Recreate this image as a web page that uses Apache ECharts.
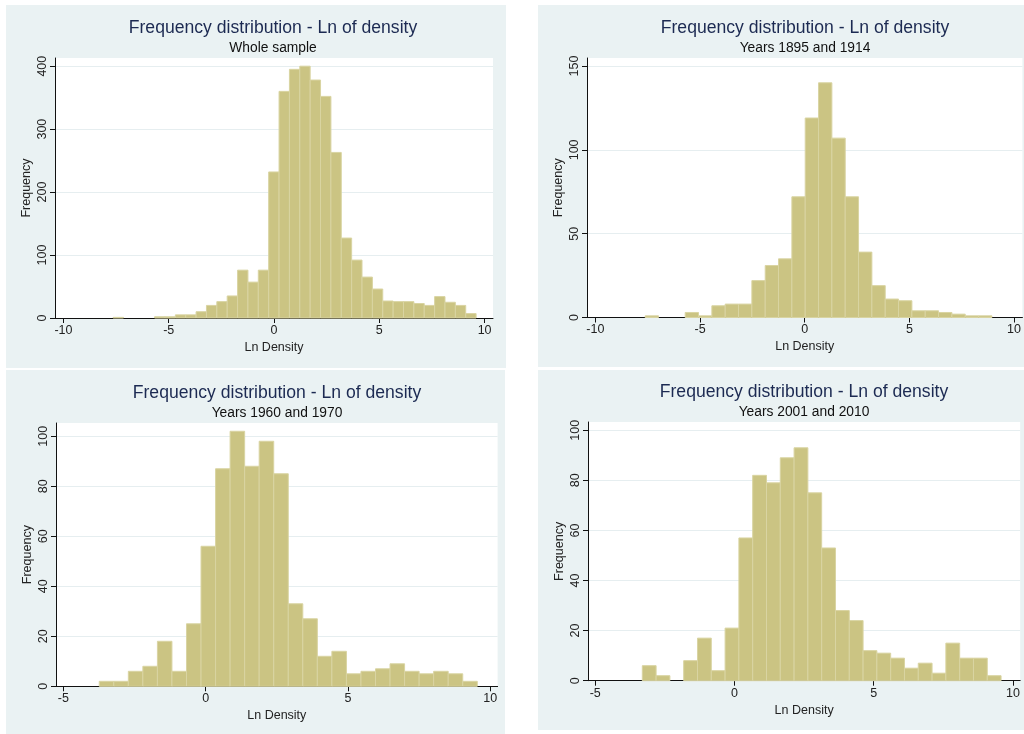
<!DOCTYPE html>
<html><head><meta charset="utf-8">
<script src="https://cdn.jsdelivr.net/npm/echarts@6/dist/echarts.min.js"></script>
<style>html,body{margin:0;padding:0;background:#fff}#c{width:1024px;height:734px}</style>
</head><body><div id="c"></div>
<script>
// ---- data ----
const mainTitle = 'Frequency distribution - Ln of density';
const subtitles = ['Whole sample', 'Years 1895 and 1914', 'Years 1960 and 1970', 'Years 2001 and 2010'];
const xAxisName = 'Ln Density';
const yAxisName = 'Frequency';

// histogram bins: first bin left edge, bin width, counts
const binStart1 = -7.64, binWidth1 = 0.4925;
const counts1 = [1,0,0,0,2,2,5,5,10,20,26,35,76,57,76,232,360,395,400,378,352,263,127,92,65,46,27,26,26,23,20,34,25,20,7];
const binStart2 = -7.62, binWidth2 = 0.637;
const counts2 = [1,0,0,3,1,7,8,8,22,31,35,72,119,140,107,72,39,19,11,10,4,4,3,2,1,1];
const binStart3 = -3.74, binWidth3 = 0.511;
const counts3 = [2,2,6,8,18,6,25,56,87,102,88,98,85,33,27,12,14,5,6,7,9,6,5,6,5,2];
const binStart4 = -3.31, binWidth4 = 0.4955;
const counts4 = [6,2,0,8,17,4,21,57,82,79,89,93,75,53,28,24,12,11,9,5,7,3,15,9,9,2];

const xTicksWide = [-10, -5, 0, 5, 10];
const xTicksNarrow = [-5, 0, 5, 10];
const yTicks1 = [0, 100, 200, 300, 400];
const yTicks2 = [0, 50, 100, 150];
const yTicks3 = [0, 20, 40, 60, 80, 100];
const yTicks4 = [0, 20, 40, 60, 80, 100];

// ---- layout / style ----
const FONT = "'Liberation Sans', Arial, sans-serif";
const BG = '#eaf2f3';
const GRIDLINE = '#e6eef0';
const BAR_FILL = '#cbc483';
const BAR_STROKE = '#d9d4a2';

const panels = [
  {bins: [binStart1, binWidth1, counts1], xr: [-10.4, 10.4], xt: xTicksWide, yt: yTicks1, ymax: 413,
   grid: {left: 55, top: 58, width: 438, height: 260}, bg: [6, 5, 500, 363], tx: 273, ty: 19},
  {bins: [binStart2, binWidth2, counts2], xr: [-10.4, 10.4], xt: xTicksWide, yt: yTicks2, ymax: 154.8,
   grid: {left: 587, top: 58, width: 437, height: 259.5}, bg: [538, 5, 500, 362], tx: 805, ty: 19},
  {bins: [binStart3, binWidth3, counts3], xr: [-5.26, 10.26], xt: xTicksNarrow, yt: yTicks3, ymax: 105.3,
   grid: {left: 56, top: 423, width: 441.6, height: 263.3}, bg: [6, 370, 499, 364], tx: 277, ty: 384},
  {bins: [binStart4, binWidth4, counts4], xr: [-5.26, 10.26], xt: xTicksNarrow, yt: yTicks4, ymax: 103.3,
   grid: {left: 588, top: 422, width: 432.2, height: 258.7}, bg: [538, 370, 500, 360], tx: 804, ty: 383}
];

function binData(b) {
  const [s, w, c] = b;
  return c.map((v, i) => [s + i * w, s + (i + 1) * w, v]);
}

const option = {
  animation: false,
  backgroundColor: '#fff',
  textStyle: {fontFamily: FONT},
  graphic: panels.map(p => ({
    type: 'rect', z: -10, silent: true,
    shape: {x: p.bg[0], y: p.bg[1], width: p.bg[2], height: p.bg[3]},
    style: {fill: BG}
  })),
  title: panels.map((p, i) => ({
    text: mainTitle, subtext: subtitles[i],
    left: p.tx, top: p.ty, textAlign: 'center', padding: 0, itemGap: 4,
    textStyle: {fontFamily: FONT, fontSize: 17.6, fontWeight: 'normal', color: '#1c2a52', lineHeight: 18},
    subtextStyle: {fontFamily: FONT, fontSize: 13.8, color: '#111', lineHeight: 14}
  })),
  grid: panels.map(p => Object.assign({show: true, backgroundColor: '#fff', borderWidth: 0}, p.grid)),
  xAxis: panels.map((p, i) => ({
    type: 'value', gridIndex: i, min: p.xr[0], max: p.xr[1],
    name: xAxisName, nameLocation: 'middle', nameGap: 23,
    nameTextStyle: {fontFamily: FONT, fontSize: 12.5, color: '#222'},
    axisLine: {show: true, onZero: false, lineStyle: {color: '#111', width: 1}},
    axisTick: {show: true, length: 5, customValues: p.xt, lineStyle: {color: '#111'}},
    axisLabel: {customValues: p.xt, fontFamily: FONT, fontSize: 12.5, color: '#222', margin: 6},
    splitLine: {show: false}
  })),
  yAxis: panels.map((p, i) => ({
    type: 'value', gridIndex: i, min: 0, max: p.ymax,
    name: yAxisName, nameLocation: 'middle', nameGap: 22,
    nameTextStyle: {fontFamily: FONT, fontSize: 12.5, color: '#222'},
    axisLine: {show: true, onZero: false, lineStyle: {color: '#111', width: 1}},
    axisTick: {show: true, length: 5, customValues: p.yt, lineStyle: {color: '#111'}},
    axisLabel: {customValues: p.yt, rotate: 90, fontFamily: FONT, fontSize: 12.5, color: '#222', margin: 6},
    splitLine: {show: true, lineStyle: {color: GRIDLINE, width: 1}}
  })),
  series: panels.map((p, i) => ({
    type: 'custom', xAxisIndex: i, yAxisIndex: i,
    encode: {x: [0, 1], y: 2},
    data: binData(p.bins),
    renderItem: function (params, api) {
      const v = api.value(2);
      if (!v) return null;
      const a = api.coord([api.value(0), v]);
      const b = api.coord([api.value(1), 0]);
      return {type: 'rect', shape: {x: a[0], y: a[1], width: b[0] - a[0], height: b[1] - a[1]},
              style: {fill: BAR_FILL, stroke: BAR_STROKE, lineWidth: 1}};
    }
  }))
};
echarts.init(document.getElementById('c')).setOption(option);
</script></body></html>
